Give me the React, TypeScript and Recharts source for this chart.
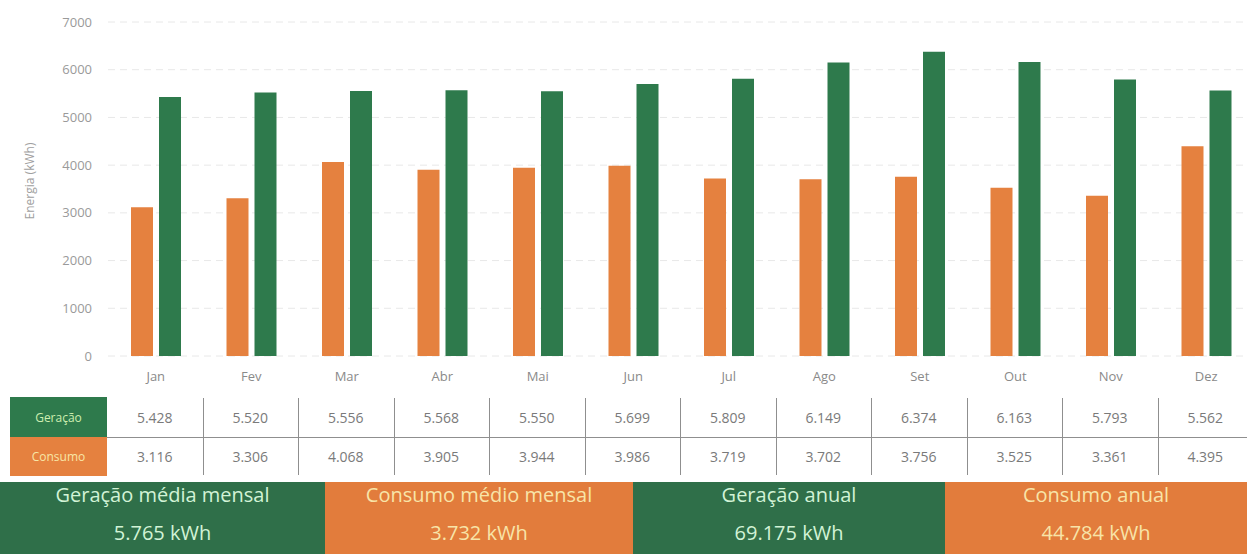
import { BarChart, Bar, XAxis, YAxis, CartesianGrid } from "recharts";

const months = ["Jan", "Fev", "Mar", "Abr", "Mai", "Jun", "Jul", "Ago", "Set", "Out", "Nov", "Dez"];
const geracao = [5428, 5520, 5556, 5568, 5550, 5699, 5809, 6149, 6374, 6163, 5793, 5562];
const consumo = [3116, 3306, 4068, 3905, 3944, 3986, 3719, 3702, 3756, 3525, 3361, 4395];
const yTicks = [0, 1000, 2000, 3000, 4000, 5000, 6000, 7000];

const summaryTitles = ["Geração média mensal", "Consumo médio mensal", "Geração anual", "Consumo anual"];
const summaryValues = ["5.765 kWh", "3.732 kWh", "69.175 kWh", "44.784 kWh"];

const GREEN = "#2e7a4c";
const ORANGE = "#e5813f";
const BOX_GREEN = "#2f6f49";
const BOX_ORANGE = "#e27c3c";
const FONT = "'Open Sans', 'Noto Sans', sans-serif";

const CHART_W = 1254;
const PLOT_LEFT = 108;
const BAND = (CHART_W - PLOT_LEFT) / months.length;

const data = months.map((m, i) => ({ month: m, geracao: geracao[i], consumo: consumo[i] }));

// 5428 -> "5.428"
const fmt = (n: number) => String(n).replace(/\B(?=(\d{3})+(?!\d))/g, ".");

export default function App() {
  return (
    <div style={{ position: "relative", width: 1247, height: 554, overflow: "hidden", background: "#fff", fontFamily: FONT }}>
      <style>{`body{margin:0}`}</style>
      <div style={{ position: "absolute", left: 0, top: 0 }}>
        <BarChart
          width={CHART_W}
          height={390}
          data={data}
          margin={{ top: 22, right: 0, left: 0, bottom: 4 }}
          barSize={22}
          barGap={6}
        >
          <CartesianGrid vertical={false} stroke="#e8e8e8" strokeDasharray="7 5" />
          <XAxis
            dataKey="month"
            axisLine={false}
            tickLine={false}
            tickSize={0}
            tickMargin={16}
            height={30}
            tick={{ fill: "#8a8a8a", fontSize: 13, fontFamily: FONT }}
          />
          <YAxis
            width={PLOT_LEFT}
            domain={[0, 7000]}
            ticks={yTicks}
            axisLine={false}
            tickLine={false}
            tickSize={0}
            tickMargin={16}
            tick={{ fill: "#9a9a9a", fontSize: 13, fontFamily: FONT }}
            label={{
              value: "Energia (kWh)",
              angle: -90,
              position: "insideLeft",
              offset: 30,
              dy: -8,
              style: { fill: "#a0a0a0", fontSize: 12, fontFamily: FONT, textAnchor: "middle" },
            }}
          />
          <Bar dataKey="consumo" fill={ORANGE} isAnimationActive={false} />
          <Bar dataKey="geracao" fill={GREEN} isAnimationActive={false} />
        </BarChart>
      </div>

      {/* table under the chart */}
      <div
        style={{
          position: "absolute", left: 10, top: 397, width: PLOT_LEFT - 11, height: 40,
          background: GREEN, color: "#cdeeb0", fontSize: 12, display: "flex",
          alignItems: "center", justifyContent: "center",
        }}
      >
        Geração
      </div>
      <div
        style={{
          position: "absolute", left: 10, top: 437, width: PLOT_LEFT - 11, height: 39,
          background: ORANGE, color: "#f8e6a6", fontSize: 12, display: "flex",
          alignItems: "center", justifyContent: "center",
        }}
      >
        Consumo
      </div>
      <div style={{ position: "absolute", left: PLOT_LEFT - 1, top: 437, width: CHART_W, height: 1, background: "#8f8f8f" }} />
      {months.map((m, i) => (
        <div key={m}>
          {i > 0 && (
            <div
              style={{
                position: "absolute", left: PLOT_LEFT - 1 + i * BAND, top: 398,
                width: 1, height: 77, background: "#8f8f8f",
              }}
            />
          )}
          <div
            style={{
              position: "absolute", left: PLOT_LEFT - 1 + i * BAND, top: 397, width: BAND, height: 40,
              display: "flex", alignItems: "center", justifyContent: "center", color: "#7a7a7a", fontSize: 14,
            }}
          >
            {fmt(geracao[i])}
          </div>
          <div
            style={{
              position: "absolute", left: PLOT_LEFT - 1 + i * BAND, top: 437, width: BAND, height: 39,
              display: "flex", alignItems: "center", justifyContent: "center", color: "#7a7a7a", fontSize: 14,
            }}
          >
            {fmt(consumo[i])}
          </div>
        </div>
      ))}

      {/* summary boxes */}
      {summaryTitles.map((t, i) => {
        const lefts = [0, 325, 633, 945, 1247];
        const green = i % 2 === 0;
        return (
          <div
            key={t}
            style={{
              position: "absolute", left: lefts[i], top: 482, width: lefts[i + 1] - lefts[i], height: 72,
              background: green ? BOX_GREEN : BOX_ORANGE, color: green ? "#d2f3d6" : "#f8e4a8",
              fontSize: 20, textAlign: "center", lineHeight: "38px", overflow: "hidden",
            }}
          >
            <div style={{ marginTop: -6 }}>{t}</div>
            <div>{summaryValues[i]}</div>
          </div>
        );
      })}
    </div>
  );
}
